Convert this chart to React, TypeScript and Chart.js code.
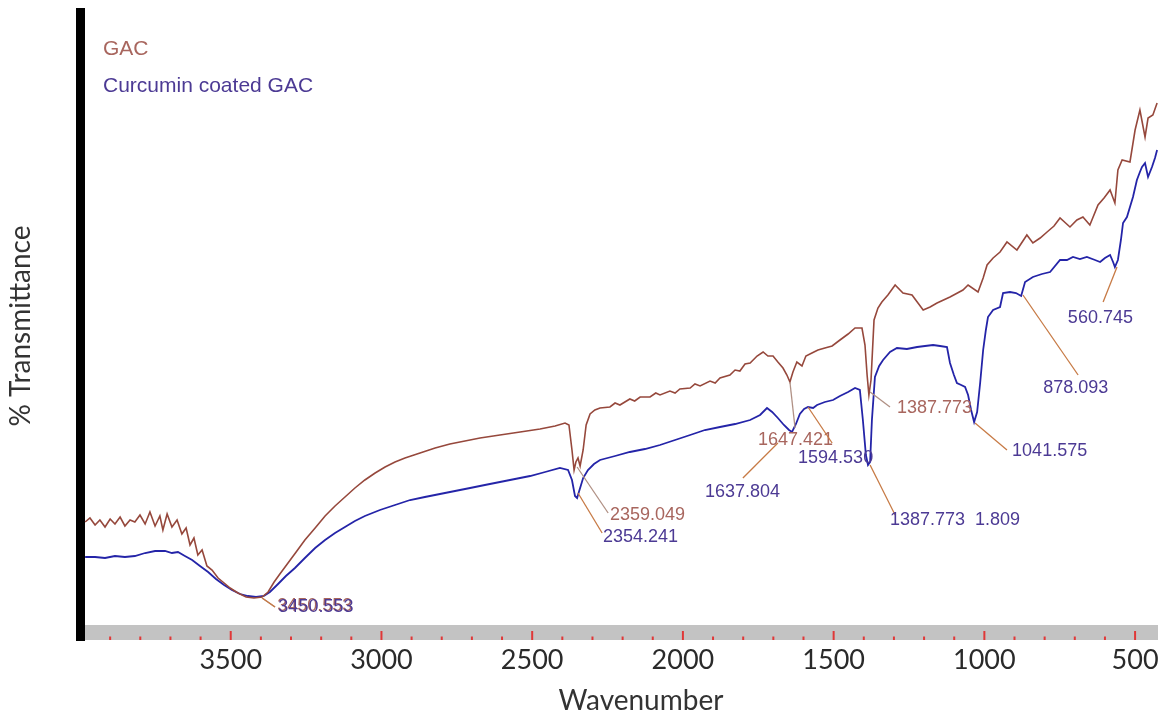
import { useEffect, useRef } from "react";
import { Chart, registerables } from "chart.js";

Chart.register(...registerables);

// ---------- data ----------
const seriesLabels = ["GAC", "Curcumin coated GAC"];

const gacWavenumber = [
  3983, 3967, 3950, 3934, 3917, 3900, 3884, 3867, 3851, 3834,
  3818, 3801, 3784, 3768, 3751, 3735, 3725, 3711, 3695, 3678,
  3662, 3648, 3635, 3622, 3609, 3595, 3579, 3562, 3542, 3522,
  3502, 3476, 3449, 3423, 3396, 3376, 3356, 3337, 3310, 3283,
  3254, 3220, 3187, 3154, 3121, 3088, 3055, 3021, 2988, 2955,
  2922, 2872, 2822, 2773, 2723, 2673, 2607, 2540, 2474, 2424,
  2391, 2378, 2368, 2361, 2355, 2348, 2341, 2331, 2321, 2308,
  2292, 2275, 2242, 2225, 2209, 2176, 2160, 2142, 2109, 2090,
  2076, 2043, 2026, 2010, 1976, 1960, 1943, 1910, 1893, 1877,
  1844, 1827, 1811, 1794, 1777, 1754, 1734, 1718, 1701, 1685,
  1668, 1655, 1645, 1635, 1622, 1605, 1592, 1572, 1552, 1529, 1505,
  1479, 1452, 1429, 1406, 1396, 1389, 1383, 1376, 1366, 1353,
  1340, 1320, 1296, 1270, 1240, 1203, 1180, 1157, 1114, 1071,
  1054, 1021, 1004, 991, 971, 948, 925, 892, 859, 839,
  815, 792, 769, 749, 716, 693, 673, 650, 623, 603,
  583, 567, 557, 543, 517, 500, 484, 467, 457, 441,
  427,
];
const gacTransmittance = [
  11.8, 12.2, 11.5, 12.0, 11.3, 12.1, 11.6, 12.3, 11.4, 12.0,
  11.8, 12.5, 11.6, 12.8, 11.4, 12.4, 11.0, 12.6, 11.3, 12.0,
  10.6, 11.2, 9.5, 10.2, 8.5, 9.0, 7.4, 7.0, 6.2, 5.7,
  5.2, 4.7, 4.3, 4.2, 4.3, 4.8, 5.8, 6.6, 7.7, 8.8,
  10.0, 11.2, 12.4, 13.4, 14.3, 15.2, 16.0, 16.7, 17.3, 17.8,
  18.2, 18.7, 19.2, 19.6, 19.9, 20.2, 20.5, 20.8, 21.1, 21.4,
  21.7, 21.5, 19.0, 17.0, 17.8, 18.2, 17.4, 19.0, 21.5, 22.6,
  23.0, 23.2, 23.3, 23.7, 23.5, 24.1, 23.9, 24.3, 24.3, 24.7,
  24.5, 24.9, 24.7, 25.1, 25.2, 25.6, 25.4, 25.9, 25.7, 26.2,
  26.5, 27.0, 26.9, 27.6, 27.7, 28.4, 28.8, 28.4, 28.4, 27.8,
  27.2, 26.5, 25.8, 26.8, 27.8, 27.4, 28.4, 28.7, 29.0, 29.2, 29.4,
  30.0, 30.6, 31.2, 31.2, 29.5, 26.5, 24.5, 26.0, 32.0, 33.2,
  33.8, 34.5, 35.5, 34.7, 34.5, 33.0, 33.3, 33.7, 34.3, 35.0,
  35.5, 34.8, 36.2, 37.5, 38.2, 38.8, 39.8, 39.0, 40.5, 39.7,
  40.2, 40.8, 41.4, 42.2, 41.3, 42.0, 42.3, 41.5, 43.5, 44.2,
  45.0, 43.7, 47.0, 48.0, 47.8, 51.0, 53.0, 50.3, 52.2, 52.5,
  53.7,
];

const curWavenumber = [
  3983, 3950, 3917, 3884, 3851, 3818, 3784, 3751, 3718, 3695,
  3675, 3652, 3628, 3602, 3575, 3549, 3522, 3496, 3469, 3443,
  3416, 3390, 3370, 3343, 3317, 3287, 3254, 3220, 3187, 3154,
  3121, 3088, 3055, 3005, 2955, 2905, 2856, 2806, 2756, 2706,
  2657, 2607, 2557, 2507, 2457, 2408, 2381, 2368, 2358, 2351,
  2345, 2331, 2315, 2295, 2275, 2225, 2176, 2126, 2076, 2026,
  1976, 1927, 1877, 1827, 1777, 1744, 1721, 1704, 1685, 1665,
  1648, 1638, 1625, 1612, 1598, 1585, 1568, 1555, 1529, 1502,
  1479, 1452, 1429, 1413, 1403, 1393, 1386, 1379, 1373, 1363,
  1349, 1336, 1313, 1290, 1257, 1223, 1197, 1170, 1147, 1124,
  1114, 1101, 1091, 1077, 1064, 1054, 1044, 1034, 1024, 1014,
  1004, 995, 988, 971, 948, 938, 915, 895, 878, 865,
  839, 809, 782, 749, 726, 706, 683, 660, 633, 616,
  600, 583, 573, 567, 557, 547, 540, 527, 517, 507,
  494, 484, 477, 467, 457, 444, 434, 427,
];
const curTransmittance = [
  8.3, 8.3, 8.2, 8.4, 8.3, 8.4, 8.7, 8.9, 8.9, 8.7,
  8.8, 8.4, 8.0, 7.4, 6.8, 6.1, 5.5, 5.0, 4.6, 4.4,
  4.3, 4.4, 4.8, 5.6, 6.4, 7.2, 8.2, 9.2, 10.0, 10.7,
  11.3, 11.9, 12.4, 13.0, 13.5, 14.0, 14.3, 14.6, 14.9, 15.2,
  15.5, 15.8, 16.1, 16.4, 16.8, 17.2, 17.0, 16.0, 14.4, 14.2,
  14.8, 16.2, 17.0, 17.6, 18.0, 18.4, 18.8, 19.1, 19.5, 20.0,
  20.5, 21.0, 21.3, 21.6, 22.0, 22.5, 23.2, 22.8, 22.2, 21.5,
  21.0, 20.8, 21.6, 22.6, 23.1, 23.3, 23.2, 23.5, 23.8, 24.0,
  24.4, 24.8, 25.2, 25.0, 22.0, 18.5, 17.5, 17.8, 22.0, 26.3,
  27.4, 28.0, 28.8, 29.2, 29.1, 29.3, 29.4, 29.5, 29.4, 29.3,
  27.7, 26.5, 25.7, 25.5, 25.3, 24.5, 23.0, 21.8, 22.8, 25.7,
  29.0, 31.0, 32.3, 33.0, 33.3, 34.7, 34.8, 34.7, 34.4, 35.8,
  36.3, 36.6, 36.8, 38.0, 38.0, 38.3, 38.1, 38.3, 38.0, 37.8,
  38.2, 38.5, 37.8, 37.3, 38.0, 40.0, 41.7, 42.3, 43.3, 44.3,
  46.0, 46.8, 47.3, 47.7, 46.3, 47.3, 48.2, 49.0,
];

const xTickValues = [3500, 3000, 2500, 2000, 1500, 1000, 500];
const xMinorTickValues = [
  3900, 3800, 3700, 3600, 3500, 3400, 3300, 3200, 3100, 3000,
  2900, 2800, 2700, 2600, 2500, 2400, 2300, 2200, 2100, 2000,
  1900, 1800, 1700, 1600, 1500, 1400, 1300, 1200, 1100, 1000,
  900, 800, 700, 600, 500,
];

// peak annotations: series index, leader from / to and text anchor in data units
const peakLabels = [
  { text: "3450.553", s: 0, from: [3396, 4.2], to: [3353, 3.3], at: [3346, 3.4] },
  { text: "3450.553", s: 1, from: [3396, 4.2], to: [3353, 3.3], at: [3342, 3.3] },
  { text: "2359.049", s: 0, from: [2351, 17.3], to: [2248, 12.7], at: [2242, 12.5] },
  { text: "2354.241", s: 1, from: [2348, 14.7], to: [2268, 10.7], at: [2265, 10.3] },
  { text: "1637.804", s: 1, from: [1685, 19.7], to: [1801, 16.2], at: [1927, 14.8] },
  { text: "1647.421", s: 0, from: [1645, 25.8], to: [1628, 21.2], at: [1751, 20.0] },
  { text: "1594.530", s: 1, from: [1585, 23.3], to: [1505, 19.7], at: [1618, 18.2] },
  { text: "1387.773", s: 0, from: [1379, 24.8], to: [1313, 23.3], at: [1290, 23.2] },
  { text: "1387.773  1.809", s: 1, from: [1379, 17.5], to: [1296, 12.5], at: [1313, 12.0] },
  { text: "1041.575", s: 1, from: [1031, 21.7], to: [925, 19.0], at: [908, 18.9] },
  { text: "878.093", s: 1, from: [872, 34.5], to: [689, 26.5], at: [805, 25.2] },
  { text: "560.745", s: 1, from: [560, 37.3], to: [606, 33.8], at: [723, 32.2] },
];

// ---------- styles ----------
const lineColors = ["#96483c", "#2424a8"];
const textColors = ["#a8665e", "#4c3a94"];
const leaderColors = ["#b09084", "#c77a45"];

const bandPlugin = {
  id: "irBand",
  beforeDraw(chart: any) {
    const { ctx, chartArea: a, scales } = chart;
    const x = scales.x;
    ctx.save();
    ctx.fillStyle = "#c3c3c3";
    ctx.fillRect(a.left, a.bottom - 15, a.right - a.left, 15);
    ctx.strokeStyle = "#e03838";
    ctx.lineWidth = 2;
    xMinorTickValues.forEach((v) => {
      const px = x.getPixelForValue(v);
      const major = xTickValues.includes(v);
      ctx.beginPath();
      ctx.moveTo(px, a.bottom - (major ? 9 : 3.5));
      ctx.lineTo(px, a.bottom);
      ctx.stroke();
    });
    ctx.restore();
  },
};

const overlayPlugin = {
  id: "irOverlay",
  afterDatasetsDraw(chart: any) {
    const { ctx, chartArea: a, scales } = chart;
    const x = scales.x;
    const y = scales.y;
    ctx.save();
    // peak labels
    ctx.font = "18px 'Liberation Sans', Arial, sans-serif";
    ctx.textBaseline = "middle";
    ctx.textAlign = "left";
    peakLabels.forEach((p) => {
      ctx.strokeStyle = leaderColors[p.s];
      ctx.lineWidth = 1.3;
      ctx.beginPath();
      ctx.moveTo(x.getPixelForValue(p.from[0]), y.getPixelForValue(p.from[1]));
      ctx.lineTo(x.getPixelForValue(p.to[0]), y.getPixelForValue(p.to[1]));
      ctx.stroke();
      ctx.fillStyle = textColors[p.s];
      ctx.fillText(p.text, x.getPixelForValue(p.at[0]), y.getPixelForValue(p.at[1]));
    });
    // legend text
    ctx.font = "21px 'Liberation Sans', Arial, sans-serif";
    ctx.textBaseline = "alphabetic";
    chart.data.datasets.forEach((d: any, i: number) => {
      ctx.fillStyle = textColors[i];
      ctx.fillText(d.label, a.left + 23, a.top + 43 + i * 37);
    });
    // x axis title
    ctx.font = "28px Lato, 'Open Sans', sans-serif";
    ctx.fillStyle = "#333333";
    ctx.textAlign = "center";
    ctx.fillText("Wavenumber", a.left + 561, a.bottom + 70);
    ctx.restore();
  },
};

export default function App() {
  const ref = useRef<HTMLCanvasElement>(null);

  useEffect(() => {
    if (!ref.current) return;
    const chart = new Chart(ref.current, {
      type: "line",
      data: {
        datasets: [
          {
            label: seriesLabels[0],
            data: gacWavenumber.map((w, i) => ({ x: w, y: gacTransmittance[i] })),
            borderColor: lineColors[0],
            borderWidth: 1.6,
            pointRadius: 0,
            tension: 0,
          },
          {
            label: seriesLabels[1],
            data: curWavenumber.map((w, i) => ({ x: w, y: curTransmittance[i] })),
            borderColor: lineColors[1],
            borderWidth: 1.8,
            pointRadius: 0,
            tension: 0,
          },
        ],
      },
      options: {
        animation: false,
        responsive: true,
        maintainAspectRatio: false,
        layout: { padding: { top: 12, right: 12, left: 0, bottom: 0 } },
        plugins: { legend: { display: false }, tooltip: { enabled: false } },
        scales: {
          x: {
            type: "linear",
            reverse: true,
            min: 424,
            max: 4000,
            position: "bottom",
            afterBuildTicks: (s: any) => {
              s.ticks = xTickValues.map((v) => ({ value: v }));
            },
            afterFit: (s: any) => {
              s.height = 77;
            },
            grid: { display: false, drawTicks: false },
            border: { display: false },
            ticks: {
              font: { family: "Lato", size: 27 },
              color: "#2a2a2a",
              padding: 4,
              maxRotation: 0,
              autoSkip: false,
              callback: (v: any) => String(v),
            },
          },
          y: {
            type: "linear",
            min: 0,
            max: 62.8,
            afterFit: (s: any) => {
              s.width = 80;
            },
            grid: { display: false, drawTicks: false },
            border: { display: true, color: "#000000", width: 9 },
            ticks: { display: false },
            title: {
              display: true,
              text: "% Transmittance",
              font: { family: "Lato", size: 28 },
              color: "#333333",
              padding: { top: 4, bottom: 0 },
            },
          },
        },
      },
      plugins: [bandPlugin, overlayPlugin],
    } as any);
    return () => chart.destroy();
  }, []);

  return (
    <div style={{ position: "fixed", left: 0, top: 0, width: 1170, height: 717, background: "#ffffff" }}>
      <canvas ref={ref} />
    </div>
  );
}
